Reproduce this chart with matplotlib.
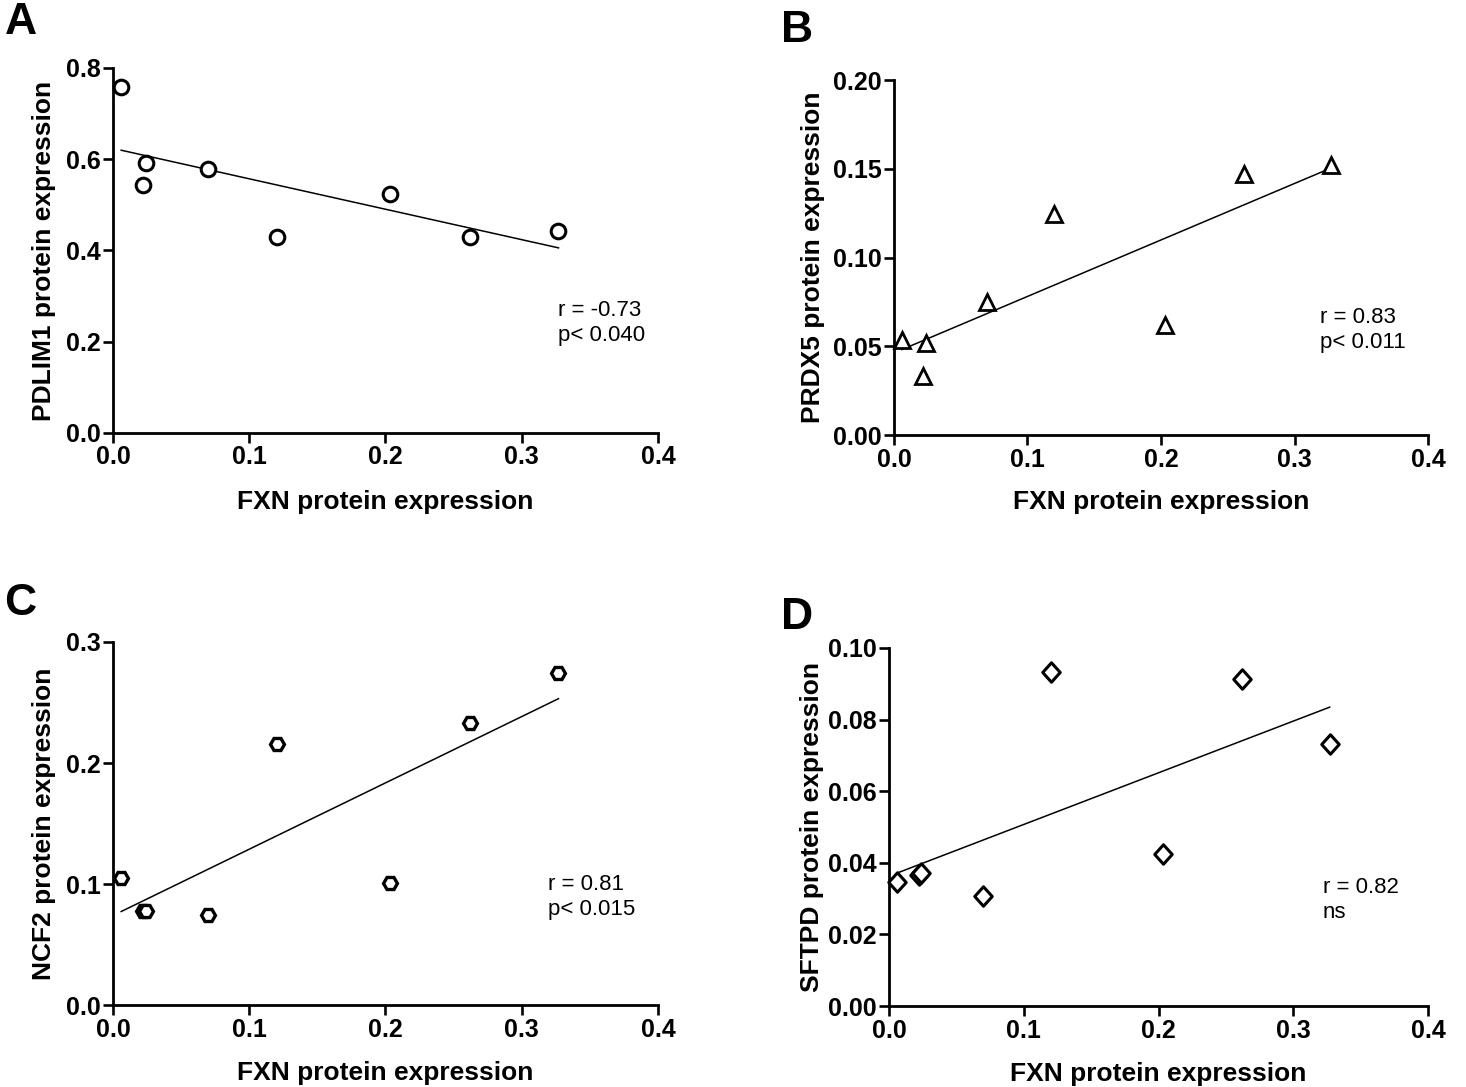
import numpy as np
import matplotlib
matplotlib.use('Agg')
import matplotlib.pyplot as plt
from matplotlib.ticker import FormatStrFormatter
from matplotlib.path import Path

plt.rcParams['font.family'] = ['Liberation Sans', 'DejaVu Sans']

# FXN protein expression (same samples in all four panels)
fxn = [0.006, 0.022, 0.024, 0.070, 0.120, 0.203, 0.262, 0.327]

pdlim1 = [0.758, 0.544, 0.592, 0.579, 0.430, 0.524, 0.430, 0.443]
prdx5 = [0.0535, 0.033, 0.052, 0.075, 0.1245, 0.062, 0.147, 0.152]
ncf2 = [0.105, 0.0777, 0.0777, 0.074, 0.216, 0.101, 0.233, 0.274]
sftpd = [0.0346, 0.0366, 0.0372, 0.0307, 0.0933, 0.0425, 0.0913, 0.0732]

panel_letters = ['A', 'B', 'C', 'D']
y_names = ['PDLIM1 protein expression', 'PRDX5 protein expression',
           'NCF2 protein expression', 'SFTPD protein expression']
stats_text = ['r = -0.73\np< 0.040', 'r = 0.83\np< 0.011',
              'r = 0.81\np< 0.015', 'r = 0.82\nns']
y_ticks = [[0.0, 0.2, 0.4, 0.6, 0.8],
           [0.00, 0.05, 0.10, 0.15, 0.20],
           [0.0, 0.1, 0.2, 0.3],
           [0.00, 0.02, 0.04, 0.06, 0.08, 0.10]]
y_fmt = ['%.1f', '%.2f', '%.1f', '%.2f']
x_ticks = [0.0, 0.1, 0.2, 0.3, 0.4]

diamond = Path([(-0.9, 0), (0, 1), (0.9, 0), (0, -1), (-0.9, 0)],
               [Path.MOVETO, Path.LINETO, Path.LINETO, Path.LINETO, Path.CLOSEPOLY])
markers = [('o', 10.5, 2.2), ('^', 11, 2.0), ('H', 10, 2.4), (diamond, 14, 2.2)]

# figure layout (fractions)
positions = [[0.0771, 0.6017, 0.3717, 0.3358],
             [0.6098, 0.5998, 0.3643, 0.3266],
             [0.0771, 0.0754, 0.3717, 0.3340],
             [0.6064, 0.0745, 0.3677, 0.3294]]
ylabel_x = [-0.104, -0.13, -0.104, -0.12]
text_xy = [(0.817, 0.30), (0.798, 0.296), (0.798, 0.298), (0.805, 0.296)]
letter_xy = [(0.003, 0.998), (0.533, 0.991), (0.003, 0.464), (0.533, 0.451)]

fig = plt.figure(figsize=(14.66, 10.87), dpi=100)

all_y = [pdlim1, prdx5, ncf2, sftpd]
for i in range(4):
    ax = fig.add_axes(positions[i])
    ys = all_y[i]
    slope, icpt = np.polyfit(fxn, ys, 1)
    xl = np.array([min(fxn), max(fxn)])
    ax.plot(xl, slope * xl + icpt, color='black', lw=1.1)
    m, ms, mew = markers[i]
    ax.plot(fxn, ys, linestyle='none', marker=m, markersize=ms, markeredgewidth=mew,
            markerfacecolor='white', markeredgecolor='black', clip_on=False, zorder=3)

    ax.set_xlim(0, 0.4)
    ax.set_ylim(0, y_ticks[i][-1])
    ax.set_xticks(x_ticks)
    ax.set_yticks(y_ticks[i])
    ax.xaxis.set_major_formatter(FormatStrFormatter('%.1f'))
    ax.yaxis.set_major_formatter(FormatStrFormatter(y_fmt[i]))
    for side in ['top', 'right']:
        ax.spines[side].set_visible(False)
    for side in ['left', 'bottom']:
        ax.spines[side].set_linewidth(2.0)
    ax.tick_params(axis='both', direction='out', length=7, width=1.9, labelsize=18)
    ax.tick_params(axis='x', pad=2)
    ax.tick_params(axis='y', pad=2)
    for lab in ax.get_xticklabels() + ax.get_yticklabels():
        lab.set_fontweight('bold')

    ax.set_xlabel('FXN protein expression', fontsize=19, fontweight='bold')
    ax.xaxis.set_label_coords(0.5, -0.155)
    ax.set_ylabel(y_names[i], fontsize=19, fontweight='bold')
    ax.yaxis.set_label_coords(ylabel_x[i], 0.5)

    ax.text(text_xy[i][0], text_xy[i][1], stats_text[i], transform=ax.transAxes,
            ha='left', va='center', fontsize=16, linespacing=1.25)

    fig.text(letter_xy[i][0], letter_xy[i][1], panel_letters[i], ha='left', va='top',
             fontsize=32, fontweight='bold')

fig.savefig('out.png', dpi=100)
